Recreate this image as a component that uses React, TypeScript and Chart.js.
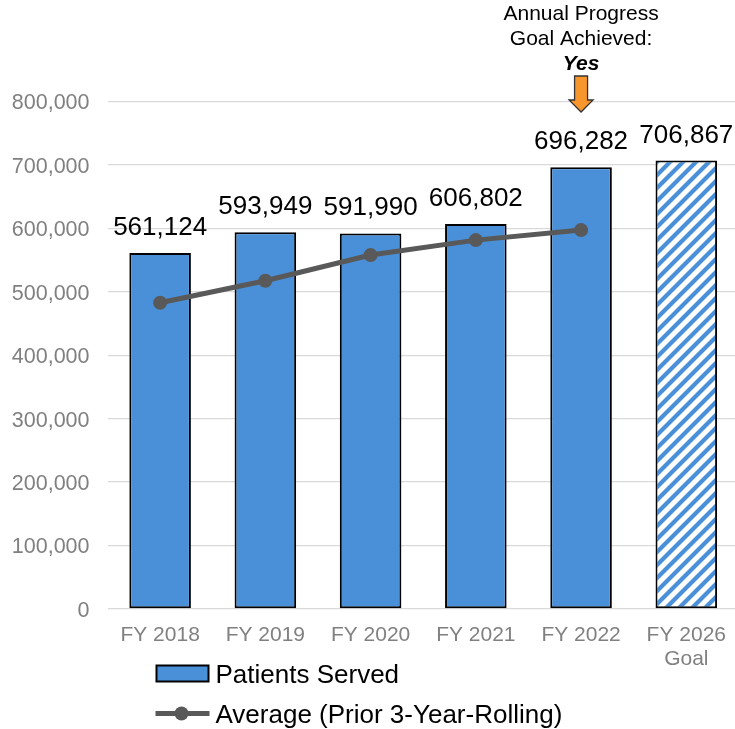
import React, { useEffect, useRef } from "react";
import { Chart, registerables } from "chart.js";

Chart.register(...registerables);

const categories: (string | string[])[] = ["FY 2018", "FY 2019", "FY 2020", "FY 2021", "FY 2022", ["FY 2026", "Goal"]];
const patientsServed = [561124, 593949, 591990, 606802, 696282, 706867];
const rollingAverage: (number | null)[] = [482700, 517400, 557900, 581500, 597300, null];
const yMax = 800000;
const yStep = 100000;
const seriesNames = ["Patients Served", "Average (Prior 3-Year-Rolling)"];
const annotationLines = ["Annual Progress", "Goal Achieved:", "Yes"];
const annotationIndex = 4;

const FONT = "'Liberation Sans', Arial, Helvetica, sans-serif";
const BLUE = "#4a90d9";
const LINE = "#595959";
const GRID = "#d9d9d9";
const TICK = "#808080";

function makeHatch(): CanvasPattern | string {
  const n = 13;
  const c = document.createElement("canvas");
  c.width = n;
  c.height = n;
  const g = c.getContext("2d");
  if (!g) return BLUE;
  g.fillStyle = "#ffffff";
  g.fillRect(0, 0, n, n);
  g.strokeStyle = BLUE;
  g.lineWidth = 4.2;
  g.lineCap = "square";
  const segs = [
    [-n / 2, n / 2, n / 2, -n / 2],
    [0, n, n, 0],
    [n / 2, n * 1.5, n * 1.5, n / 2],
  ];
  for (const s of segs) {
    g.beginPath();
    g.moveTo(s[0], s[1]);
    g.lineTo(s[2], s[3]);
    g.stroke();
  }
  const p = g.createPattern(c, "repeat");
  return p || BLUE;
}

const dataLabelPlugin = {
  id: "dataLabels",
  afterDatasetsDraw(chart: any) {
    const ctx = chart.ctx;
    const meta = chart.getDatasetMeta(0);
    ctx.save();
    ctx.font = `26px ${FONT}`;
    ctx.fillStyle = "#000000";
    ctx.textAlign = "center";
    ctx.textBaseline = "alphabetic";
    meta.data.forEach((el: any, i: number) => {
      ctx.fillText(patientsServed[i].toLocaleString("en-US"), el.x, el.y - 18);
    });
    ctx.restore();
  },
};

const annotationPlugin = {
  id: "goalAnnotation",
  afterDraw(chart: any) {
    const ctx = chart.ctx;
    const x = chart.scales.x.getPixelForValue(annotationIndex);
    ctx.save();
    ctx.fillStyle = "#000000";
    ctx.textAlign = "center";
    ctx.textBaseline = "alphabetic";
    ctx.font = `21px ${FONT}`;
    ctx.fillText(annotationLines[0], x, 20);
    ctx.fillText(annotationLines[1], x, 44.5);
    ctx.font = `italic bold 21px ${FONT}`;
    ctx.fillText(annotationLines[2], x, 70);
    // arrow
    const top = chart.chartArea.top;
    ctx.beginPath();
    ctx.moveTo(x - 6.5, top - 25.5);
    ctx.lineTo(x + 6.5, top - 25.5);
    ctx.lineTo(x + 6.5, top - 1.5);
    ctx.lineTo(x + 12, top - 1.5);
    ctx.lineTo(x, top + 10.5);
    ctx.lineTo(x - 12, top - 1.5);
    ctx.lineTo(x - 6.5, top - 1.5);
    ctx.closePath();
    ctx.fillStyle = "#f7962d";
    ctx.fill();
    ctx.strokeStyle = "#333333";
    ctx.lineWidth = 1.3;
    ctx.stroke();
    ctx.restore();
  },
};

const legendPlugin = {
  id: "customLegend",
  afterDraw(chart: any) {
    const ctx = chart.ctx;
    const x0 = chart.chartArea.left + 49;
    const y1 = chart.chartArea.bottom + 64.5;
    const y2 = chart.chartArea.bottom + 104.5;
    ctx.save();
    // bar swatch
    ctx.fillStyle = BLUE;
    ctx.fillRect(x0, y1 - 8, 52, 16);
    ctx.strokeStyle = "#000000";
    ctx.lineWidth = 2;
    ctx.strokeRect(x0, y1 - 8, 52, 16);
    // line swatch
    ctx.strokeStyle = LINE;
    ctx.lineWidth = 5;
    ctx.beginPath();
    ctx.moveTo(x0 - 1, y2);
    ctx.lineTo(x0 + 53, y2);
    ctx.stroke();
    ctx.fillStyle = LINE;
    ctx.beginPath();
    ctx.arc(x0 + 25, y2, 7, 0, Math.PI * 2);
    ctx.fill();
    // texts
    ctx.fillStyle = "#000000";
    ctx.font = `26px ${FONT}`;
    ctx.textAlign = "left";
    ctx.textBaseline = "alphabetic";
    ctx.fillText(seriesNames[0], x0 + 59, y1 + 9);
    ctx.fillText(seriesNames[1], x0 + 59, y2 + 9);
    ctx.restore();
  },
};

export default function App() {
  const ref = useRef<HTMLCanvasElement | null>(null);

  useEffect(() => {
    const canvas = ref.current;
    if (!canvas) return;
    const hatch = makeHatch();
    const barColors = patientsServed.map((_, i) => (i === patientsServed.length - 1 ? hatch : BLUE));
    const chart = new Chart(canvas, {
      type: "bar",
      data: {
        labels: categories as any,
        datasets: [
          {
            type: "bar",
            label: seriesNames[0],
            data: patientsServed,
            backgroundColor: barColors as any,
            borderColor: "#000000",
            borderWidth: 2,
            borderSkipped: false,
            categoryPercentage: 1,
            barPercentage: 0.585,
            order: 2,
          },
          {
            type: "line",
            label: seriesNames[1],
            data: rollingAverage,
            borderColor: LINE,
            backgroundColor: LINE,
            borderWidth: 5,
            pointRadius: 7,
            pointHoverRadius: 7,
            pointBackgroundColor: LINE,
            pointBorderWidth: 0,
            spanGaps: false,
            order: 1,
          } as any,
        ],
      },
      options: {
        responsive: false,
        animation: false,
        devicePixelRatio: 1,
        layout: { autoPadding: false, padding: { top: 101.5, left: 0, right: 0, bottom: 0 } },
        plugins: {
          legend: { display: false },
          tooltip: { enabled: false },
        },
        scales: {
          x: {
            grid: { display: false, drawTicks: false },
            border: { display: false },
            ticks: {
              color: TICK,
              font: { family: FONT, size: 21, lineHeight: 1.15 },
              padding: 14,
              maxRotation: 0,
              autoSkip: false,
            },
            afterFit: (s: any) => {
              s.height = 120;
            },
          },
          y: {
            min: 0,
            max: yMax,
            grid: { color: GRID, lineWidth: 1.3, drawTicks: false },
            border: { display: false },
            ticks: {
              stepSize: yStep,
              color: TICK,
              font: { family: FONT, size: 21.5 },
              padding: 18,
              labelOffset: 2,
              callback: (v: any) => Number(v).toLocaleString("en-US"),
            },
            afterFit: (s: any) => {
              s.width = 107.5;
            },
          },
        },
      },
      plugins: [dataLabelPlugin, annotationPlugin, legendPlugin],
    });
    return () => chart.destroy();
  }, []);

  return (
    <div
      style={{
        position: "fixed",
        left: 0,
        top: 0,
        width: 735,
        height: 729,
        overflow: "hidden",
        background: "#ffffff",
      }}
    >
      <div style={{ position: "absolute", left: 0, top: 0, width: 740, height: 729 }}>
        <canvas ref={ref} width={740} height={729} style={{ display: "block", width: 740, height: 729 }} />
      </div>
    </div>
  );
}
